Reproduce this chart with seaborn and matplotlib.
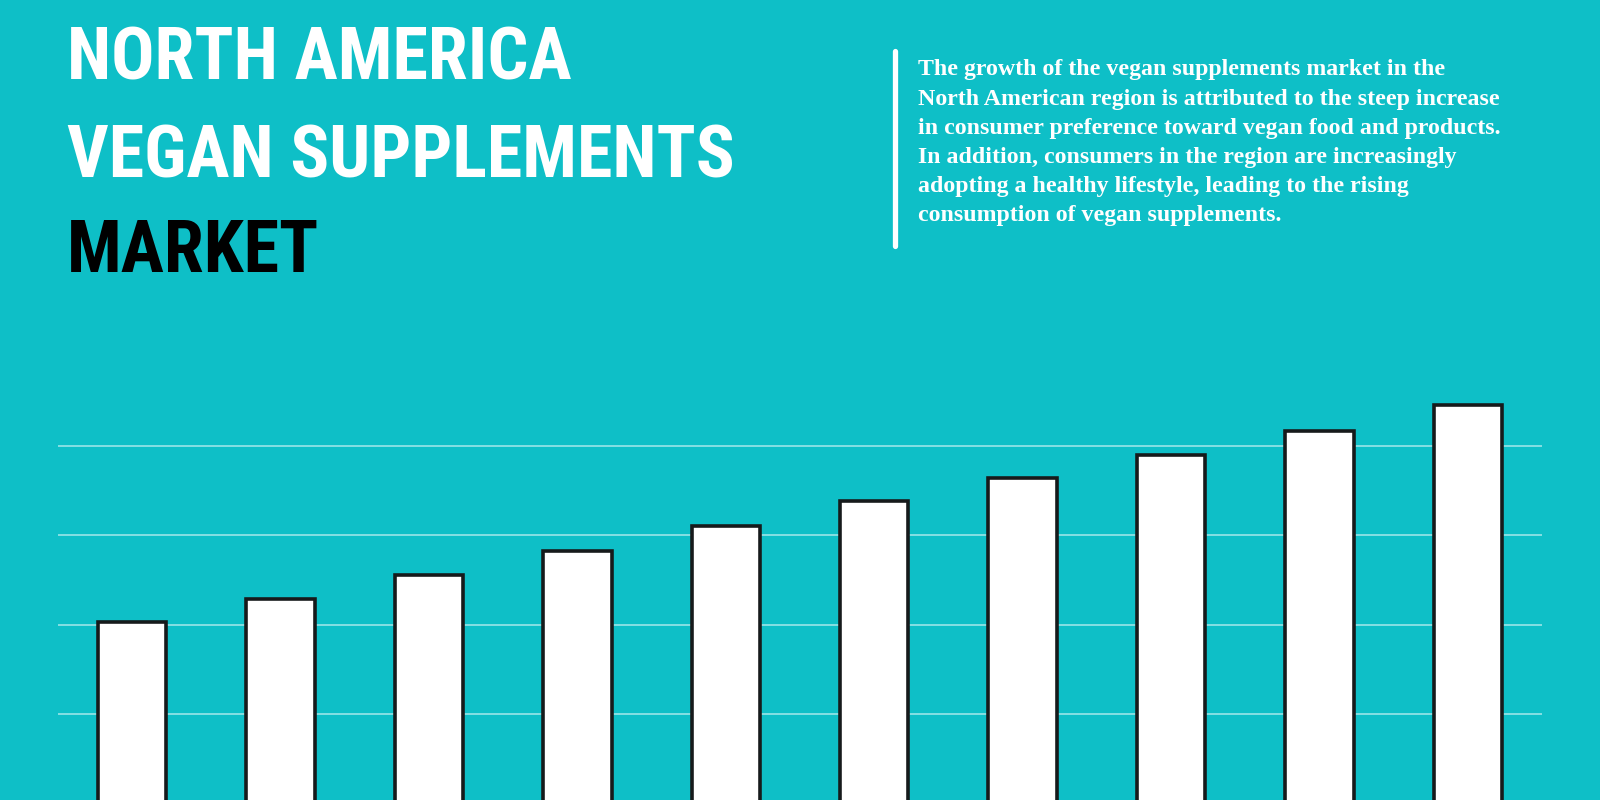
import os
import matplotlib
matplotlib.use("Agg")
import matplotlib.pyplot as plt
import seaborn as sns
import pandas as pd
from matplotlib.lines import Line2D
from matplotlib import font_manager as fm

# ---- data ----
years = ["2021", "2022", "2023", "2024", "2025", "2026", "2027", "2028", "2029", "2030"]
market_size = [2.03, 2.29, 2.56, 2.83, 3.11, 3.38, 3.64, 3.90, 4.17, 4.46]
grid_ticks = [1, 2, 3, 4]

title_lines = ["NORTH AMERICA", "VEGAN SUPPLEMENTS", "MARKET"]
title_colors = ["white", "white", "black"]
para_lines = [
    "The growth of the vegan supplements market in the",
    "North American region is attributed to the steep increase",
    "in consumer preference toward vegan food and products.",
    "In addition, consumers in the region are increasingly",
    "adopting a healthy lifestyle, leading to the rising",
    "consumption of vegan supplements.",
]

BG = "#0EBFC7"

# ---- pick a condensed heavy font for the title, if one is installed ----
prefs = [
    "notosans-extracondensedblack", "notosans-extracondensedextrabold",
    "notosans-extracondensedbold", "notosans-condensedblack",
    "notosans-condensedextrabold", "notosans-condensedbold",
    "robotocondensed-black", "robotocondensed-bold", "roboto_condensed-bold",
    "opensans-condensedextrabold", "opensans-condensedbold",
    "dejavusanscondensed-bold", "liberationsansnarrow-bold",
]
files = {}
try:
    for f in fm.findSystemFonts():
        files[os.path.splitext(os.path.basename(f))[0].lower()] = f
except Exception:
    pass
for e in fm.fontManager.ttflist:
    files.setdefault(os.path.splitext(os.path.basename(e.fname))[0].lower(), e.fname)
title_fp = None
for p in prefs:
    if p in files:
        title_fp = fm.FontProperties(fname=files[p])
        break
if title_fp is None:
    title_fp = fm.FontProperties(family="DejaVu Sans", weight="bold")

sns.set_theme(style="white")
plt.rcParams["font.family"] = ["DejaVu Sans"]

fig = plt.figure(figsize=(16, 8), dpi=100)
fig.patch.set_facecolor(BG)

ax = fig.add_axes([0.03625, -0.0041, 0.9275, 0.5291])
ax.set_facecolor(BG)

df = pd.DataFrame({"year": years, "value": market_size})
sns.barplot(data=df, x="year", y="value", ax=ax, color="white",
            width=0.46, edgecolor="#161a1b", linewidth=2.6, saturation=1)

ax.set_xlim(-0.5, 9.5)
ax.set_ylim(0, 4.74)
ax.set_yticks(grid_ticks)
ax.yaxis.grid(True, color="#8fe2e5", linewidth=1.3)
ax.xaxis.grid(False)
ax.set_axisbelow(True)
ax.tick_params(left=False, bottom=False, labelleft=False, labelbottom=False)
ax.set_xlabel("")
ax.set_ylabel("")
for s in ax.spines.values():
    s.set_visible(False)

# ---- title: size fitted so "VEGAN SUPPLEMENTS" spans the reference width ----
baselines_px = [80, 177, 272]
title_texts = []
for txt, col, b in zip(title_lines, title_colors, baselines_px):
    t = fig.text(67 / 1600, 1 - b / 800, txt, color=col, fontproperties=title_fp,
                 va="baseline", ha="left")
    t.set_fontsize(60)
    title_texts.append(t)
renderer = fig.canvas.get_renderer()
w = title_texts[1].get_window_extent(renderer).width
size = 60 * 668.0 / w
size = min(size, 66)
for t in title_texts:
    t.set_fontsize(size)

# ---- vertical line ----
fig.add_artist(Line2D([895 / 1600, 895 / 1600], [1 - 51 / 800, 1 - 246 / 800],
                      color="white", linewidth=3.8, transform=fig.transFigure))

# ---- paragraph ----
for i, line in enumerate(para_lines):
    yb = 75.5 + i * 29.1
    fig.text(918 / 1600, 1 - yb / 800, line, color="white", fontsize=17.2,
             fontweight="bold", family=["Liberation Serif", "DejaVu Serif"],
             va="baseline", ha="left")

fig.savefig("out.png", dpi=100, facecolor=BG)
